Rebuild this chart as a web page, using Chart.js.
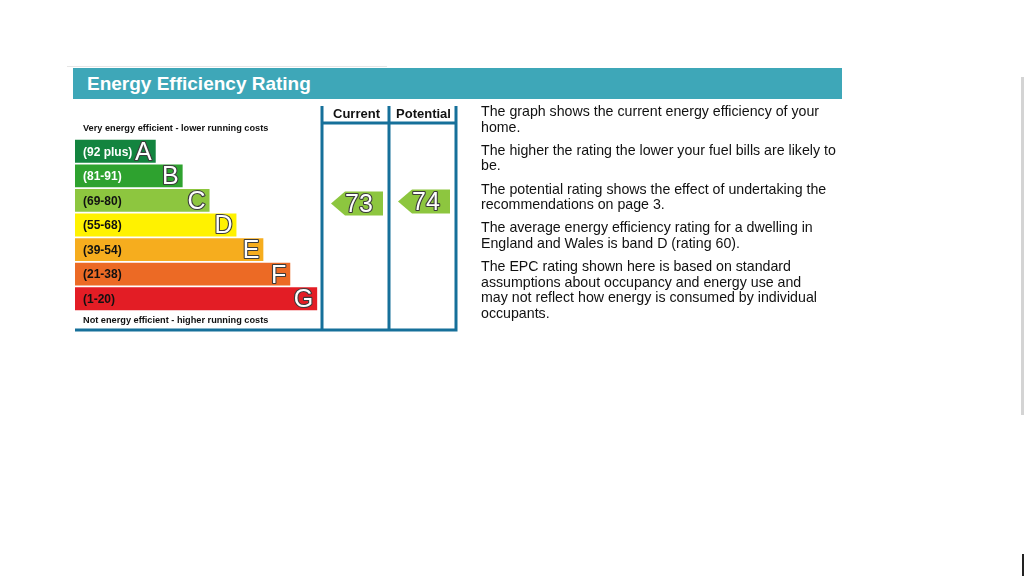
<!DOCTYPE html>
<html>
<head>
<meta charset="utf-8">
<script src="https://cdn.jsdelivr.net/npm/chart.js@4/dist/chart.umd.min.js"></script>
<style>
  html, body { margin: 0; padding: 0; background: #fff; }
  body { width: 1024px; height: 576px; position: relative; overflow: hidden; font-family: Arial, "Liberation Sans", sans-serif; }
  #chart { position: absolute; left: 0; top: 0; }
  .topline { position: absolute; left: 67px; top: 66px; width: 320px; height: 1px; background: #e6e6e6; }
  .titulo { position: absolute; left: 73px; top: 68px; width: 769px; height: 31px; background: #3ea7b8; color: #fff;
            font-weight: bold; font-size: 19px; line-height: 31px; padding-left: 14px; box-sizing: border-box; }
  .texto { position: absolute; left: 481px; top: 104px; width: 380px; font-size: 14.2px; line-height: 15.6px; color: #111; white-space: nowrap; }
  .texto p { margin: 0 0 7.6px 0; }
  .scroll { position: absolute; left: 1021px; top: 77px; width: 3px; height: 338px; background: #d4d4d4; }
  .scroll2 { position: absolute; left: 1022px; top: 554px; width: 2px; height: 22px; background: #222; }
</style>
</head>
<body>
<div class="topline"></div>
<div class="titulo">Energy Efficiency Rating</div>
<canvas id="chart" width="1024" height="576"></canvas>
<div class="texto">
  <p>The graph shows the current energy efficiency of your<br>home.</p>
  <p>The higher the rating the lower your fuel bills are likely to<br>be.</p>
  <p>The potential rating shows the effect of undertaking the<br>recommendations on page 3.</p>
  <p>The average energy efficiency rating for a dwelling in<br>England and Wales is band D (rating 60).</p>
  <p>The EPC rating shown here is based on standard<br>assumptions about occupancy and energy use and<br>may not reflect how energy is consumed by individual<br>occupants.</p>
</div>
<div class="scroll"></div>
<div class="scroll2"></div>
<script>
// dados
const bandas = ["A", "B", "C", "D", "E", "F", "G"];
const faixas = ["(92 plus)", "(81-91)", "(69-80)", "(55-68)", "(39-54)", "(21-38)", "(1-20)"];
const faixaMin = [92, 81, 69, 55, 39, 21, 1];
const faixaMax = [100, 91, 80, 68, 54, 38, 20];
const comprimento = [3, 4, 5, 6, 7, 8, 9];
const cores = ["#13843f", "#2ea22f", "#8dc63f", "#fff200", "#f6ad1e", "#ec6a25", "#e31d25"];
const corTexto = ["#fff", "#fff", "#111", "#111", "#111", "#111", "#111"];
const colunas = ["Current", "Potential"];
const notas = [73, 74];

const AZUL = "#16709a";
const FONTE = 'Arial, "Liberation Sans", sans-serif';

function bandaDe(r) {
    for (let i = 0; i < bandas.length; i++) {
        if (r >= faixaMin[i]) return i;
    }
    return bandas.length - 1;
}

function textoContorno(ctx, txt, x, y) {
    ctx.lineJoin = "round";
    ctx.strokeStyle = "#3c3c3c";
    ctx.lineWidth = 2.2;
    ctx.strokeText(txt, x, y);
    ctx.fillStyle = "#fff";
    ctx.fillText(txt, x, y);
}

const epcPlugin = {
    id: "epc",
    afterDatasetsDraw(chart) {
        const ctx = chart.ctx;
        const area = chart.chartArea;
        const x = chart.scales.x;
        const y = chart.scales.y;
        const passo = y.getPixelForValue(1) - y.getPixelForValue(0);
        ctx.save();

        // textos das faixas e letras
        ctx.textBaseline = "middle";
        bandas.forEach((b, i) => {
            const cy = y.getPixelForValue(i);
            const fim = x.getPixelForValue(comprimento[i]);
            ctx.font = "bold 12px " + FONTE;
            ctx.fillStyle = corTexto[i];
            ctx.textAlign = "left";
            ctx.fillText(faixas[i], area.left + 8, cy + 1);
            ctx.font = "25px " + FONTE;
            ctx.textAlign = "right";
            textoContorno(ctx, b, fim - 4, cy + 1.5);
        });

        // legendas topo / base
        ctx.font = "bold 9.2px " + FONTE;
        ctx.fillStyle = "#111";
        ctx.textAlign = "left";
        ctx.fillText("Very energy efficient - lower running costs", area.left + 8, area.top - 11);
        ctx.fillText("Not energy efficient - higher running costs", area.left + 8, area.bottom + 9);

        // colunas Current / Potential
        const larg = 67;
        const topo = area.top - 33;
        const base = area.bottom + 19;
        const c0 = area.right - larg * 2;
        ctx.strokeStyle = AZUL;
        ctx.lineWidth = 3;
        ctx.beginPath();
        for (let k = 0; k <= 2; k++) {
            ctx.moveTo(c0 + k * larg, topo);
            ctx.lineTo(c0 + k * larg, base + 1.5);
        }
        ctx.moveTo(c0, area.top - 16);
        ctx.lineTo(area.right + 1.5, area.top - 16);
        ctx.moveTo(area.left, base);
        ctx.lineTo(area.right + 1.5, base);
        ctx.stroke();

        ctx.font = "bold 13px " + FONTE;
        ctx.fillStyle = "#111";
        ctx.textAlign = "center";
        colunas.forEach((c, k) => ctx.fillText(c, c0 + k * larg + larg / 2 + 1, area.top - 25));

        // setas com as notas
        notas.forEach((r, k) => {
            const i = bandaDe(r);
            const meio = (faixaMin[i] + faixaMax[i]) / 2;
            const cy = y.getPixelForValue(i) + (meio - r) * passo / (faixaMax[i] - faixaMin[i] + 1);
            const esq = c0 + k * larg + 9;
            const dir = c0 + (k + 1) * larg - 6;
            const h = 12;
            ctx.fillStyle = cores[i];
            ctx.beginPath();
            ctx.moveTo(esq, cy);
            ctx.lineTo(esq + 14, cy - h);
            ctx.lineTo(dir, cy - h);
            ctx.lineTo(dir, cy + h);
            ctx.lineTo(esq + 14, cy + h);
            ctx.closePath();
            ctx.fill();
            ctx.font = "25px " + FONTE;
            ctx.textAlign = "center";
            textoContorno(ctx, String(r), (esq + dir) / 2 + 2, cy + 1.5);
        });

        ctx.restore();
    }
};

new Chart(document.getElementById("chart").getContext("2d"), {
    type: "bar",
    data: {
        labels: bandas,
        datasets: [{
            data: comprimento,
            backgroundColor: cores,
            borderWidth: 0,
            barPercentage: 0.93,
            categoryPercentage: 1
        }]
    },
    options: {
        indexAxis: "y",
        responsive: false,
        animation: false,
        layout: { padding: { left: 75, right: 568, top: 139, bottom: 265 } },
        plugins: { legend: { display: false }, tooltip: { enabled: false } },
        scales: {
            x: { display: false, min: 0, max: 14.16 },
            y: { display: false, offset: true }
        }
    },
    plugins: [epcPlugin]
});
</script>
</body>
</html>
